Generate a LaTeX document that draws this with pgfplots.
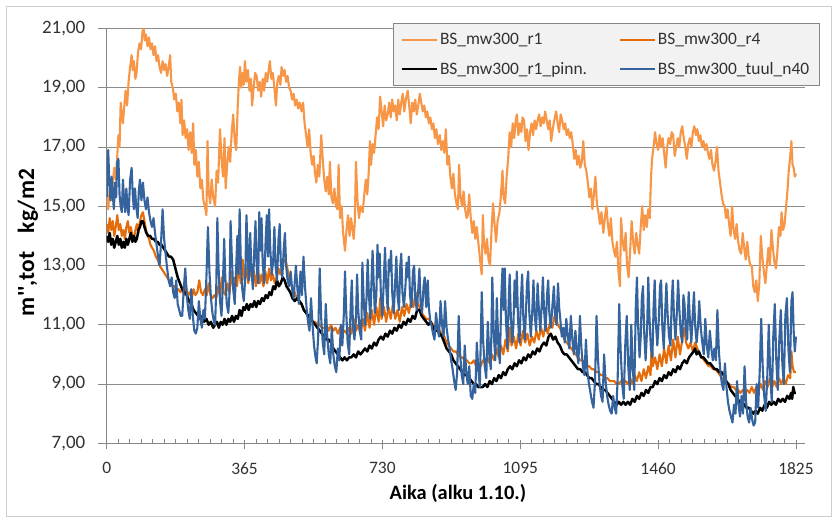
\documentclass[border=0pt]{standalone}
\usepackage{fontspec}
\setmainfont{Carlito}[Ligatures=TeXOff]
\usepackage{pgfplots}
\pgfplotsset{compat=1.18}
\definecolor{ltor}{RGB}{247,150,70}
\definecolor{dkor}{RGB}{228,108,10}
\definecolor{blu}{RGB}{52,99,158}
\definecolor{axg}{RGB}{134,134,134}
\definecolor{grd}{RGB}{140,140,140}
\definecolor{txt}{RGB}{50,50,50}
\definecolor{frm}{RGB}{205,205,205}
\begin{document}
\begin{tikzpicture}
\useasboundingbox (0,0) rectangle (838bp,523bp);
\fill[white] (0,0) rectangle (838bp,523bp);
\draw[draw=frm, line width=0.8bp] (6.5bp,6.5bp) rectangle (831.5bp,516.5bp);
\begin{axis}[
  at={(106.7bp,79.7bp)}, anchor=south west, scale only axis,
  width=698.3bp, height=414.8bp,
  xmin=0, xmax=1849, ymin=7, ymax=21,
  axis lines=left, axis line style={-, draw=axg, line width=0.8bp},
  xtick={0,365,730,1095,1460,1825}, xticklabels={0,365,730,1095,1460,1825},
  minor x tick num=11,
  ytick={7,9,11,13,15,17,19,21},
  yticklabels={{7,00},{9,00},{11,00},{13,00},{15,00},{17,00},{19,00},{21,00}},
  ymajorgrids, major grid style={draw=grd, line width=0.8bp},
  tick style={draw=axg, line width=0.8bp},
  ytick align=outside, xtick align=center,
  major tick length=9bp, minor tick length=4bp,
  minor x tick style={yshift=2bp},
  major x tick style={yshift=-1.5bp},
  xticklabel style={font=\fontsize{17.5}{19}\selectfont, text=txt, yshift=-11bp},
  yticklabel style={font=\fontsize{19}{21}\selectfont, text=txt, xshift=-9bp},
  xlabel={Aika (alku 1.10.)},
  ylabel={m'',tot\hspace{0.8em}kg/m2},
  xlabel style={at={(axis description cs:0.503,-0.12)}, anchor=center, font=\bfseries\fontsize{20.5}{23}\selectfont},
  ylabel style={at={(axis description cs:-0.1127,0.484)}, anchor=center, font=\bfseries\fontsize{23.5}{27}\selectfont},
  legend columns=2,
  legend cell align=left,
  legend style={at={(axis description cs:0.41,1.013)}, anchor=north west,
    draw=axg, fill=white!95!black, font=\fontsize{17.5}{20}\selectfont, text=txt,
    inner xsep=8bp, inner ysep=8bp, row sep=12bp,
    /tikz/every even column/.append style={column sep=30bp}},
  legend image code/.code={\draw[#1, line width=1.8bp] (0bp,0bp) -- (35bp,0bp);},
  every axis plot/.append style={line join=round},
]
% BS_mw300_r1
\addplot[draw=ltor, line width=2.1bp] coordinates {
(0,15.3)(4,14.9)(8,15.6)(12,15.2)(16,15.8)(20,16.3)(24,15.9)(28,16.7)(31,17.4)(34,17.0)(37,18.5)(40,18.1)(43,17.8)(46,18.3)(50,18.9)(54,18.4)(58,19.2)(62,19.7)(66,20.1)(69,19.6)(72,19.9)(76,19.3)(79,19.5)(83,20.2)(87,20.5)(91,20.3)(95,20.9)(98,21.0)(101,20.6)(104,20.8)(108,20.4)(112,20.7)(116,20.3)(120,20.5)(124,20.1)(128,20.4)(132,19.9)(136,20.1)(140,19.7)(144,19.5)(148,19.9)(152,19.6)(156,19.8)(160,19.4)(164,19.7)(168,20.1)(171,19.2)(175,19.0)(179,18.6)(183,18.8)(187,18.2)(191,18.5)(195,17.8)(198,18.6)(201,17.4)(205,17.9)(209,17.3)(213,17.6)(217,16.9)(221,17.5)(225,16.8)(229,17.8)(232,16.4)(236,16.9)(240,16.0)(244,16.5)(248,15.6)(252,15.9)(256,15.2)(260,15.0)(264,14.7)(267,17.2)(270,15.5)(274,15.1)(278,15.9)(282,15.3)(287,15.0)(291,16.2)(295,15.8)(300,17.6)(304,16.6)(308,16.0)(312,17.3)(315,15.6)(319,16.4)(323,17.0)(327,16.5)(331,17.5)(335,18.1)(339,17.2)(343,16.9)(347,18.4)(350,19.2)(353,19.7)(356,19.0)(360,19.5)(363,19.1)(366,19.9)(370,19.2)(374,19.6)(378,18.9)(382,19.3)(385,18.4)(389,19.0)(393,19.5)(397,19.4)(401,18.9)(405,19.2)(409,18.7)(413,19.3)(417,18.9)(421,19.5)(425,19.2)(429,19.6)(432,19.9)(436,19.3)(440,19.5)(444,19.0)(448,18.4)(452,19.2)(456,19.4)(460,19.1)(463,19.7)(467,19.4)(471,19.6)(475,19.2)(479,19.4)(483,19.0)(487,18.9)(491,18.6)(495,18.8)(499,18.4)(503,18.6)(507,18.3)(511,18.5)(516,18.2)(520,18.5)(524,17.8)(528,17.4)(532,17.0)(536,17.6)(540,16.8)(544,16.4)(548,16.7)(551,16.2)(555,15.8)(559,16.4)(563,16.0)(568,17.4)(572,16.6)(576,15.9)(580,15.5)(584,16.0)(588,15.4)(591,16.5)(595,15.3)(599,15.1)(603,15.6)(607,15.0)(611,14.9)(614,16.4)(618,14.6)(622,15.0)(626,14.1)(631,13.5)(635,14.2)(639,14.7)(643,14.0)(647,14.6)(651,14.2)(654,13.9)(657,14.5)(660,16.5)(664,15.2)(668,14.6)(672,15.0)(678,14.8)(682,15.4)(686,15.9)(690,15.4)(694,16.2)(697,17.2)(700,16.4)(704,17.1)(708,16.8)(712,17.4)(716,18.0)(720,17.6)(724,18.7)(728,18.2)(732,17.7)(736,18.4)(740,17.9)(744,18.1)(748,18.5)(752,18.0)(756,18.6)(760,18.2)(764,18.4)(768,17.9)(772,18.6)(776,18.1)(780,18.5)(784,18.8)(788,18.2)(792,18.6)(797,18.9)(801,18.4)(805,17.8)(809,18.5)(813,18.2)(817,18.6)(821,18.1)(825,18.4)(829,18.8)(833,18.5)(837,18.2)(841,18.4)(845,18.0)(849,18.2)(853,17.8)(857,18.0)(861,17.6)(865,17.8)(869,17.3)(873,17.6)(877,17.1)(882,17.4)(886,16.9)(890,17.2)(894,16.8)(898,17.6)(902,16.4)(906,16.7)(910,16.0)(914,15.6)(918,16.1)(922,15.4)(926,15.1)(930,14.9)(933,16.4)(937,15.3)(941,15.0)(945,15.5)(949,14.9)(953,14.6)(956,14.7)(960,15.4)(964,14.6)(968,14.1)(972,14.5)(976,13.9)(980,14.3)(983,13.9)(987,13.4)(991,12.9)(993,12.7)(996,14.7)(999,13.8)(1003,13.4)(1007,13.9)(1011,13.2)(1015,13.0)(1019,14.2)(1023,15.1)(1027,14.4)(1031,13.8)(1035,14.5)(1040,14.8)(1044,15.4)(1048,16.2)(1051,15.3)(1055,15.1)(1059,16.0)(1063,16.6)(1067,17.5)(1071,17.0)(1075,17.8)(1079,17.3)(1083,17.9)(1086,18.1)(1090,17.4)(1094,17.8)(1098,17.5)(1101,18.0)(1105,17.9)(1109,17.2)(1113,17.6)(1117,16.9)(1121,17.5)(1125,17.8)(1129,17.4)(1133,17.9)(1137,17.6)(1141,17.9)(1145,18.1)(1149,17.7)(1153,18.0)(1157,17.8)(1161,18.2)(1165,17.9)(1169,17.6)(1173,17.9)(1177,17.2)(1181,17.6)(1185,17.9)(1190,18.2)(1194,17.8)(1198,17.5)(1202,18.1)(1206,17.9)(1210,17.6)(1214,17.8)(1218,17.4)(1222,17.6)(1226,17.3)(1230,17.5)(1234,17.1)(1238,16.6)(1242,16.9)(1246,16.4)(1250,16.7)(1254,16.3)(1258,16.5)(1262,17.2)(1266,16.4)(1270,16.2)(1274,15.8)(1278,15.3)(1282,15.6)(1286,14.9)(1290,15.4)(1294,16.0)(1298,15.1)(1302,14.8)(1306,14.4)(1310,14.8)(1315,14.1)(1319,14.6)(1323,15.0)(1327,14.4)(1331,14.0)(1335,14.6)(1339,13.8)(1343,13.5)(1347,13.3)(1351,13.8)(1355,12.8)(1359,12.3)(1362,14.6)(1366,13.8)(1370,13.5)(1374,14.1)(1378,13.0)(1382,12.6)(1386,13.5)(1390,14.5)(1394,13.8)(1398,13.4)(1402,14.1)(1406,13.7)(1410,13.4)(1414,14.3)(1418,15.0)(1422,14.2)(1426,14.7)(1430,14.3)(1434,14.9)(1438,14.6)(1441,15.9)(1444,16.6)(1448,17.0)(1452,17.5)(1456,17.1)(1460,16.9)(1464,17.4)(1468,17.0)(1472,17.3)(1476,16.8)(1480,16.3)(1484,17.0)(1488,17.3)(1492,17.1)(1496,17.5)(1500,17.4)(1504,16.7)(1508,17.0)(1512,17.3)(1516,17.0)(1520,17.5)(1524,17.7)(1528,17.3)(1532,17.0)(1536,16.6)(1540,17.1)(1544,17.3)(1548,17.0)(1552,17.5)(1556,17.7)(1560,17.4)(1564,17.6)(1568,17.2)(1572,17.4)(1576,17.0)(1580,17.2)(1584,16.9)(1588,17.1)(1592,16.8)(1596,16.6)(1600,16.9)(1604,16.4)(1608,16.2)(1612,16.5)(1616,17.0)(1620,16.2)(1624,15.8)(1628,15.4)(1632,15.1)(1636,15.0)(1640,14.6)(1644,14.9)(1648,14.4)(1652,14.0)(1656,15.0)(1660,14.2)(1664,13.9)(1668,14.4)(1672,13.8)(1676,13.5)(1680,13.4)(1684,14.1)(1688,13.6)(1692,13.2)(1696,13.8)(1700,13.3)(1704,13.0)(1708,13.0)(1712,12.3)(1716,12.1)(1720,12.5)(1724,11.8)(1728,12.4)(1732,14.0)(1736,13.3)(1740,12.8)(1744,12.4)(1748,13.0)(1752,13.6)(1756,13.0)(1760,14.2)(1764,13.6)(1768,13.1)(1772,12.9)(1776,13.5)(1780,14.3)(1784,14.0)(1787,14.8)(1791,14.2)(1795,14.4)(1799,15.0)(1803,15.6)(1806,16.2)(1810,16.7)(1813,17.2)(1816,16.4)(1819,16.3)(1822,16.0)(1825,16.1)
};
\addlegendentry{BS\_mw300\_r1}
% BS_mw300_r4
\addplot[draw=dkor, line width=2.1bp] coordinates {
(0,14.4)(4,14.1)(8,14.6)(12,14.2)(16,14.5)(20,14.0)(24,14.3)(28,14.7)(32,14.2)(36,14.4)(40,14.0)(44,14.2)(48,13.9)(52,14.3)(56,14.5)(60,14.1)(64,14.3)(68,14.0)(72,13.9)(76,14.2)(80,14.4)(84,14.1)(88,14.5)(92,14.7)(96,14.8)(100,14.5)(104,14.2)(108,14.0)(112,13.9)(116,13.7)(120,13.6)(125,13.5)(130,13.3)(135,13.2)(140,13.0)(145,12.9)(150,12.8)(155,12.7)(160,12.6)(165,12.5)(170,12.4)(175,12.3)(180,12.3)(185,12.2)(190,12.2)(195,12.1)(200,12.2)(205,12.0)(210,12.3)(215,12.0)(220,12.1)(225,11.9)(230,12.2)(235,12.0)(240,12.1)(245,12.5)(250,12.1)(255,12.0)(260,12.2)(265,12.0)(270,12.4)(275,12.0)(280,11.9)(285,12.0)(290,11.9)(295,12.3)(300,12.0)(305,12.6)(310,12.1)(315,12.0)(320,12.4)(325,12.1)(330,12.8)(335,12.2)(340,12.6)(345,12.3)(350,13.0)(355,12.4)(360,13.2)(365,12.5)(370,12.9)(375,12.4)(380,13.0)(385,12.5)(390,12.8)(395,12.3)(400,12.9)(405,12.4)(410,12.7)(415,12.3)(420,12.8)(425,12.4)(430,12.9)(435,12.5)(440,12.7)(445,12.4)(450,12.6)(455,12.9)(460,12.7)(465,13.0)(470,13.2)(475,13.1)(480,12.8)(485,12.5)(490,12.3)(495,12.2)(500,12.0)(505,11.9)(510,11.8)(516,11.7)(522,11.5)(528,11.4)(534,11.3)(540,11.2)(546,11.1)(552,11.1)(558,11.0)(564,11.0)(570,10.9)(576,10.9)(582,11.0)(588,10.8)(594,11.0)(600,10.8)(606,10.9)(612,10.7)(618,10.9)(624,10.7)(630,10.8)(636,10.7)(642,10.9)(648,10.7)(654,11.2)(660,10.8)(666,11.0)(672,10.7)(678,11.2)(684,10.8)(690,11.4)(696,10.9)(702,11.5)(708,11.0)(714,11.6)(720,11.1)(724,11.9)(728,11.2)(734,11.6)(740,11.1)(746,11.6)(752,11.2)(758,11.7)(764,11.2)(770,11.5)(776,11.1)(782,11.6)(788,11.3)(794,11.7)(800,11.4)(806,11.8)(812,11.6)(818,12.1)(822,11.8)(828,11.6)(834,11.4)(840,11.3)(846,11.2)(852,11.2)(858,11.1)(864,11.0)(870,10.9)(876,10.9)(882,10.8)(888,10.7)(894,10.6)(900,10.4)(906,10.3)(912,10.2)(918,10.1)(924,10.1)(930,10.0)(936,9.9)(942,9.9)(948,9.8)(954,9.8)(960,9.7)(966,9.7)(972,9.8)(978,9.6)(984,9.7)(990,9.6)(996,9.8)(1002,9.7)(1008,9.9)(1014,9.7)(1020,10.0)(1026,9.8)(1032,10.2)(1038,9.9)(1044,10.3)(1050,10.0)(1056,10.5)(1062,10.1)(1068,10.9)(1072,10.3)(1078,10.6)(1084,10.2)(1090,10.7)(1096,10.3)(1102,10.8)(1108,10.4)(1114,10.7)(1120,10.3)(1126,10.6)(1132,10.4)(1138,10.8)(1144,10.5)(1150,10.9)(1156,10.6)(1162,11.0)(1168,10.7)(1174,11.1)(1180,10.9)(1186,11.3)(1190,11.3)(1194,11.0)(1200,10.9)(1206,10.7)(1212,10.5)(1218,10.4)(1224,10.3)(1230,10.2)(1236,10.1)(1242,10.0)(1248,9.9)(1254,9.8)(1260,9.8)(1266,9.7)(1272,9.6)(1278,9.6)(1284,9.5)(1290,9.5)(1296,9.4)(1302,9.4)(1308,9.3)(1314,9.3)(1320,9.2)(1326,9.2)(1332,9.1)(1338,9.1)(1344,9.1)(1350,9.0)(1356,9.0)(1362,9.1)(1368,9.0)(1374,9.1)(1380,9.0)(1386,9.2)(1392,9.0)(1398,9.3)(1404,9.1)(1410,9.4)(1416,9.1)(1422,9.5)(1428,9.2)(1434,9.6)(1440,9.3)(1443,10.4)(1446,9.6)(1452,9.9)(1458,9.5)(1464,10.0)(1470,9.6)(1476,10.2)(1482,9.7)(1488,10.3)(1494,9.8)(1500,10.5)(1506,9.9)(1512,10.6)(1518,10.0)(1524,10.5)(1530,10.9)(1534,10.4)(1540,10.2)(1546,10.4)(1552,10.1)(1558,10.4)(1564,10.2)(1570,10.0)(1576,9.9)(1582,9.8)(1588,9.7)(1594,9.6)(1600,9.6)(1606,9.5)(1612,9.5)(1618,9.4)(1624,9.3)(1630,9.2)(1636,9.1)(1642,9.0)(1648,9.0)(1654,8.9)(1660,8.9)(1666,8.8)(1672,8.8)(1678,8.7)(1684,8.8)(1690,8.7)(1696,8.8)(1702,8.7)(1708,8.9)(1714,8.7)(1720,8.9)(1726,8.8)(1732,9.0)(1738,8.8)(1744,9.1)(1750,8.9)(1756,9.2)(1762,8.9)(1768,9.1)(1774,8.9)(1780,9.2)(1786,9.0)(1792,9.2)(1798,9.0)(1804,9.3)(1810,9.2)(1813,10.1)(1816,9.6)(1820,9.4)(1825,9.4)
};
\addlegendentry{BS\_mw300\_r4}
% BS_mw300_r1_pinn.
\addplot[draw=black, line width=2.5bp] coordinates {
(0,14.0)(4,13.8)(8,14.1)(12,13.7)(16,13.9)(20,13.6)(24,13.8)(28,14.0)(32,13.7)(36,13.9)(40,13.6)(44,13.8)(48,13.6)(52,13.9)(56,13.7)(60,13.9)(64,14.1)(68,13.8)(72,14.0)(76,13.8)(80,13.9)(84,14.2)(88,14.3)(92,14.5)(96,14.5)(100,14.3)(105,14.1)(110,14.0)(115,14.0)(120,13.9)(125,13.9)(130,13.8)(135,13.8)(140,13.7)(145,13.7)(150,13.6)(155,13.5)(160,13.4)(165,13.3)(170,13.3)(176,13.2)(182,12.9)(188,12.6)(194,12.4)(200,12.2)(206,12.1)(212,12.0)(218,11.8)(224,11.7)(230,11.5)(236,11.4)(242,11.3)(248,11.2)(254,11.3)(258,11.1)(264,11.2)(270,11.0)(276,11.1)(282,10.9)(287,11.0)(292,11.1)(297,10.9)(302,11.1)(307,11.0)(312,11.2)(317,11.0)(322,11.2)(327,11.1)(332,11.3)(337,11.1)(342,11.3)(347,11.2)(352,11.5)(357,11.3)(362,11.6)(366,11.5)(371,11.7)(376,11.5)(381,11.7)(386,11.6)(391,11.8)(396,11.6)(401,11.8)(406,11.7)(411,11.9)(416,11.8)(421,12.0)(426,11.9)(431,12.1)(436,12.0)(441,12.3)(446,12.2)(451,12.5)(456,12.3)(461,12.4)(466,12.6)(471,12.5)(476,12.3)(481,12.2)(486,12.1)(492,11.9)(498,11.8)(504,11.9)(510,11.8)(516,11.7)(522,11.5)(528,11.4)(534,11.3)(540,11.2)(546,11.1)(552,11.0)(558,10.9)(564,10.8)(570,10.7)(576,10.6)(582,10.5)(588,10.5)(594,10.4)(600,10.2)(606,10.1)(612,10.0)(618,9.9)(624,9.8)(630,9.9)(636,9.8)(642,9.9)(648,9.9)(654,10.0)(660,9.9)(666,10.1)(672,10.0)(678,10.1)(684,10.2)(690,10.1)(696,10.3)(702,10.2)(708,10.4)(714,10.3)(720,10.5)(726,10.6)(732,10.5)(738,10.7)(744,10.6)(750,10.8)(756,10.7)(762,10.9)(768,10.8)(774,11.0)(780,10.9)(786,11.1)(792,11.0)(798,11.2)(804,11.1)(810,11.3)(816,11.2)(822,11.5)(828,11.5)(834,11.3)(840,11.2)(846,11.1)(852,11.0)(858,11.1)(864,10.9)(870,10.8)(876,10.8)(882,10.7)(888,10.6)(894,10.4)(900,10.2)(906,10.1)(912,10.0)(918,9.8)(924,9.7)(930,9.6)(936,9.5)(942,9.4)(948,9.3)(954,9.3)(960,9.2)(966,9.1)(972,9.0)(978,9.0)(984,8.9)(990,8.9)(996,8.9)(1002,9.0)(1008,8.9)(1014,9.1)(1020,9.0)(1026,9.2)(1032,9.1)(1038,9.3)(1044,9.2)(1050,9.4)(1056,9.3)(1062,9.5)(1068,9.6)(1074,9.5)(1080,9.7)(1086,9.6)(1092,9.8)(1098,9.7)(1104,9.9)(1110,9.8)(1116,10.0)(1122,9.9)(1128,10.1)(1134,10.0)(1140,10.2)(1146,10.1)(1152,10.3)(1158,10.4)(1164,10.3)(1170,10.6)(1176,10.7)(1182,10.5)(1188,10.6)(1194,10.4)(1200,10.3)(1206,10.1)(1212,10.0)(1218,10.0)(1224,9.9)(1230,9.8)(1236,9.7)(1242,9.6)(1248,9.5)(1254,9.5)(1260,9.4)(1266,9.4)(1272,9.3)(1278,9.2)(1284,9.2)(1290,9.1)(1296,9.0)(1302,9.0)(1308,8.9)(1314,8.8)(1320,8.8)(1326,8.7)(1332,8.6)(1338,8.5)(1344,8.4)(1350,8.3)(1356,8.4)(1362,8.3)(1368,8.4)(1374,8.3)(1380,8.4)(1386,8.3)(1392,8.5)(1398,8.4)(1404,8.6)(1410,8.5)(1416,8.7)(1422,8.6)(1428,8.8)(1434,8.7)(1440,8.9)(1446,8.9)(1452,9.1)(1458,9.0)(1464,9.2)(1470,9.1)(1476,9.3)(1482,9.2)(1488,9.4)(1494,9.3)(1500,9.5)(1506,9.4)(1512,9.6)(1518,9.5)(1524,9.7)(1530,9.8)(1536,9.7)(1542,9.9)(1548,10.0)(1554,10.1)(1558,10.2)(1562,10.0)(1568,10.1)(1574,9.9)(1580,9.9)(1586,9.8)(1592,9.7)(1598,9.7)(1604,9.6)(1610,9.5)(1616,9.5)(1622,9.4)(1628,9.4)(1634,9.3)(1640,9.1)(1646,9.0)(1652,8.8)(1658,8.7)(1664,8.6)(1670,8.5)(1676,8.4)(1682,8.4)(1688,8.3)(1694,8.2)(1700,8.2)(1706,8.1)(1712,8.0)(1718,8.1)(1724,8.0)(1730,8.2)(1736,8.1)(1742,8.3)(1748,8.2)(1754,8.4)(1760,8.3)(1766,8.4)(1772,8.3)(1778,8.5)(1784,8.4)(1790,8.5)(1796,8.4)(1802,8.6)(1808,8.5)(1812,8.7)(1815,8.5)(1818,8.9)(1821,8.7)(1825,8.7)
};
\addlegendentry{BS\_mw300\_r1\_pinn.}
% BS_mw300_tuul_n40
\addplot[draw=blu, line width=2.1bp] coordinates {
(0,15.3)(2,16.4)(4,16.9)(7,15.8)(10,15.2)(13,16.0)(16,15.4)(19,14.9)(22,15.8)(25,15.3)(28,16.5)(31,16.6)(34,15.4)(37,15.0)(40,14.8)(43,15.9)(46,15.2)(49,14.8)(52,15.6)(55,15.0)(58,14.7)(62,15.9)(66,16.3)(69,15.4)(72,14.9)(75,15.6)(78,15.0)(82,14.6)(85,15.5)(88,15.9)(92,15.2)(96,15.8)(100,15.2)(104,14.9)(108,15.3)(112,14.8)(116,14.5)(120,14.3)(124,14.6)(128,14.1)(132,13.7)(136,13.3)(140,13.0)(144,13.8)(148,14.9)(152,13.9)(156,13.4)(160,12.9)(164,12.5)(168,12.3)(172,12.6)(176,12.1)(180,11.9)(184,12.5)(188,11.7)(192,11.5)(196,11.3)(200,11.3)(204,12.2)(208,12.9)(212,12.0)(216,11.5)(220,11.2)(224,12.2)(228,11.3)(232,10.8)(236,10.7)(240,10.9)(244,11.8)(248,11.2)(252,10.9)(256,11.5)(260,11.2)(264,12.6)(268,14.3)(272,12.8)(276,11.9)(280,11.4)(284,11.1)
(287,11.0)(290,12.2)(293,14.6)(296,13.0)(300,11.8)(304,11.3)(308,12.5)(311,13.9)(314,12.6)(318,11.7)(322,11.4)(325,12.0)(328,14.5)(331,13.4)(335,12.2)(339,11.7)(343,13.0)(346,14.0)(349,12.7)(352,14.9)(355,13.2)(359,12.2)(363,11.8)(367,12.6)(370,14.7)(373,13.6)(376,12.5)(380,14.1)(383,12.9)(387,12.2)(391,13.6)(394,14.5)(397,13.0)(401,12.4)(404,14.8)(407,13.5)(410,14.6)(413,13.1)(417,12.4)(421,13.9)(424,14.7)(427,13.3)(430,14.9)(433,13.6)(437,12.7)(441,13.2)(444,14.3)(447,13.0)(451,12.5)(455,13.9)(458,14.4)(461,13.1)(465,12.6)(469,13.6)(472,14.1)(475,13.0)(479,12.5)(483,12.3)(487,12.8)(491,12.2)(495,11.9)
(501,13.0)(505,12.2)(509,11.7)(513,12.8)(517,12.0)(521,13.3)(525,12.3)(529,11.6)(533,11.1)(537,10.8)(541,11.9)(545,11.0)(549,10.3)(553,9.9)(556,9.7)(560,10.6)(564,12.9)(568,11.2)(572,10.4)(576,10.0)(580,11.7)(584,10.6)(588,10.0)(592,9.7)(596,10.9)(600,10.0)(604,9.6)(608,9.4)(612,10.2)(616,9.8)(620,11.0)(624,10.3)
(628,11.4)(631,12.8)(634,11.5)(638,10.4)(642,10.0)(646,11.6)(649,12.5)(652,11.0)(656,10.5)(660,11.2)(663,12.7)(666,11.5)(670,10.8)(674,10.5)(677,13.1)(680,12.0)(684,11.0)(688,11.9)(691,13.2)(694,12.1)(698,11.2)(701,12.4)(704,13.5)(707,12.4)(710,11.4)(714,12.0)(717,13.7)(720,12.6)(723,13.4)(726,12.0)(730,11.3)(734,12.6)(737,13.6)(740,12.3)(744,11.5)(747,13.2)(750,12.8)(753,13.5)(756,12.1)(760,11.4)(764,12.5)(767,13.3)(770,12.0)(774,11.5)(777,12.9)(780,13.4)(783,12.1)(787,11.6)(791,12.3)(794,13.1)(797,12.6)(800,13.3)(803,12.0)(807,11.6)(811,12.8)(814,13.0)(817,11.9)(821,11.5)(825,12.2)(828,12.9)(831,11.8)(835,11.4)(839,12.3)(842,12.6)(846,11.6)(850,12.5)(853,11.6)(857,11.1)
(860,11.0)(864,10.7)(868,10.5)(872,11.4)(876,10.9)(880,10.6)(884,11.8)(888,11.0)(892,10.6)(896,11.8)(900,10.9)(904,10.5)(908,10.2)(912,9.8)(916,9.5)(920,9.1)(924,8.8)(928,9.4)(932,11.3)(936,10.0)(940,9.3)(944,9.0)(948,10.3)(952,9.4)(956,9.0)(960,9.6)(964,8.6)(968,8.5)(972,9.0)(976,8.7)(980,10.4)(984,9.5)(988,8.9)(993,12.1)(997,10.4)(1001,9.6)(1005,9.2)(1009,11.1)(1013,10.0)(1017,9.5)(1021,12.6)(1025,10.7)(1029,9.8)(1033,11.9)(1037,10.3)
(1041,9.7)(1045,12.0)(1048,12.9)(1051,11.5)(1054,12.9)(1057,11.2)(1061,10.2)(1064,11.6)(1067,12.7)(1070,11.3)(1074,10.4)(1077,11.0)(1080,12.5)(1083,11.6)(1086,12.8)(1089,11.2)(1093,10.4)(1097,11.9)(1100,12.7)(1103,11.3)(1107,10.5)(1110,11.4)(1113,12.4)(1116,12.8)(1119,11.4)(1123,10.6)(1127,11.5)(1130,12.5)(1133,11.4)(1137,10.8)(1141,12.4)(1144,11.6)(1148,10.8)(1152,11.7)(1155,12.6)(1158,11.5)(1162,10.8)(1166,12.0)(1169,12.5)(1172,11.4)(1176,10.9)(1180,11.6)(1184,12.3)(1187,11.4)(1191,11.0)(1195,12.4)(1198,11.6)(1201,11.2)(1205,10.6)
(1209,10.9)(1213,10.4)(1217,11.2)(1221,10.6)(1225,10.2)(1229,11.3)(1233,10.5)(1237,10.0)(1241,10.8)(1245,10.1)(1249,9.7)(1253,11.3)(1257,10.2)(1261,9.6)(1265,9.3)(1269,10.5)(1273,9.4)(1277,9.0)(1281,8.7)(1285,8.4)(1289,8.2)(1293,9.1)(1297,11.3)(1301,9.8)(1305,9.0)(1309,8.6)(1313,8.4)(1317,10.0)(1321,9.1)(1325,8.6)(1329,8.3)(1333,8.1)(1337,8.0)(1341,8.6)(1345,8.2)(1349,8.0)(1353,9.2)(1357,11.7)(1361,10.1)(1365,9.0)(1369,8.5)(1373,10.3)(1377,11.3)(1381,9.6)(1385,8.8)(1389,11.0)(1393,9.5)
(1397,8.8)(1401,11.6)(1404,12.6)(1407,11.0)(1411,9.9)(1414,10.6)(1417,11.9)(1420,12.3)(1423,10.8)(1427,9.8)(1431,10.9)(1434,12.6)(1437,11.3)(1441,10.2)(1445,9.9)(1448,11.6)(1451,12.5)(1454,11.1)(1458,10.3)(1462,11.2)(1465,12.3)(1468,12.5)(1471,11.0)(1475,10.2)(1479,11.5)(1482,12.4)(1485,11.4)(1489,10.6)(1493,10.3)(1496,11.8)(1499,12.5)(1502,11.3)(1506,10.5)(1510,11.5)(1513,12.5)(1516,11.6)(1520,10.7)(1524,10.4)(1527,12.0)(1530,11.7)(1533,10.9)(1537,10.5)(1541,12.1)(1544,11.2)(1548,10.4)(1552,11.4)(1555,12.1)(1558,11.0)(1562,10.4)(1566,11.0)(1569,11.8)(1573,10.9)(1577,10.4)
(1581,10.0)(1585,11.2)(1589,10.3)(1593,9.9)(1597,10.8)(1601,10.2)(1605,9.8)(1609,10.2)(1613,9.8)(1617,11.5)(1621,10.1)(1625,9.4)(1629,9.0)(1633,8.8)(1637,9.7)(1641,8.9)(1645,8.4)(1649,8.1)(1653,7.9)(1657,7.7)(1661,8.3)(1665,8.0)(1669,9.1)(1673,8.3)(1677,7.9)(1681,8.6)(1685,8.0)(1689,9.6)(1693,8.4)(1697,7.9)(1701,7.7)(1705,8.2)(1709,7.8)(1713,7.6)(1717,7.7)(1721,9.0)(1725,8.2)(1729,9.4)(1733,11.2)(1737,9.6)(1741,8.6)(1745,8.1)(1749,9.2)(1753,11.0)(1757,9.3)(1761,8.4)(1765,10.6)(1769,11.7)(1773,9.8)(1777,8.8)(1781,10.5)(1785,11.5)(1789,9.7)(1793,9.0)(1797,11.3)(1801,11.9)(1805,10.2)(1809,9.4)(1813,11.8)(1816,12.1)(1819,10.8)(1822,10.1)(1825,10.6)
};
\addlegendentry{BS\_mw300\_tuul\_n40}
\end{axis}
\end{tikzpicture}
\end{document}
